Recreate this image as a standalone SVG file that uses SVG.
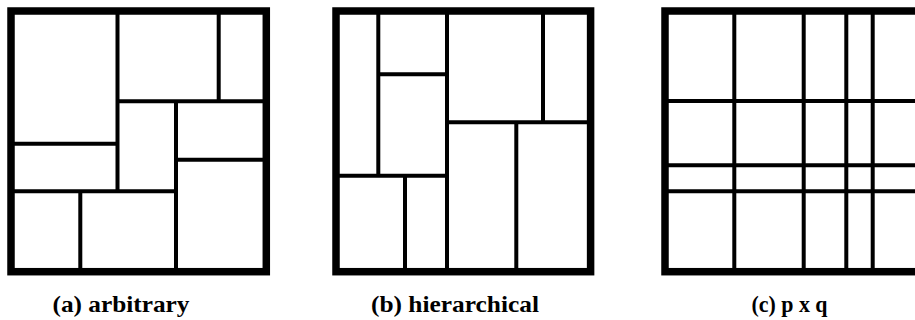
<svg xmlns="http://www.w3.org/2000/svg" width="915" height="320" viewBox="0 0 915 320">
<style>
.frame{fill:none;stroke:#000;stroke-width:7.5}
.div{stroke:#000;stroke-width:4;fill:none}
.lbl{font-family:"Liberation Serif","Times New Roman",serif;font-weight:bold;font-size:24px;fill:#000}
</style>
<rect width="915" height="320" fill="#fff"/>
<g id="panel-a">
<rect class="frame" x="11" y="11" width="255.3" height="260.7"/>
<path class="div" d="M117.5 11V191.3M11 143.7H117.5M11 191.3H176M80.3 191.3V271.7M176 101.3V271.7M117.5 101.3H266.3M218.7 11V101.3M176 159.7H266.3"/>
<text class="lbl" x="52.5" y="312" textLength="137" lengthAdjust="spacingAndGlyphs">(a) arbitrary</text>
</g>
<g id="panel-b">
<rect class="frame" x="336" y="11" width="254.6" height="260.7"/>
<path class="div" d="M378.3 11V175.7M378.3 74.3H447M447 11V271.7M336 175.7H447M405 175.7V271.7M447 122.3H590.6M543 11V122.3M516.3 122.3V271.7"/>
<text class="lbl" x="371" y="312" textLength="168" lengthAdjust="spacingAndGlyphs">(b) hierarchical</text>
</g>
<g id="panel-c">
<rect class="frame" x="665" y="11" width="258" height="260.7"/>
<path class="div" d="M734.3 11V271.7M803.7 11V271.7M846.3 11V271.7M872.7 11V271.7M665 101H923M665 165.3H923M665 191.3H923"/>
<text class="lbl" x="751.5" y="312" textLength="76" lengthAdjust="spacingAndGlyphs">(c) p x q</text>
</g>
</svg>
